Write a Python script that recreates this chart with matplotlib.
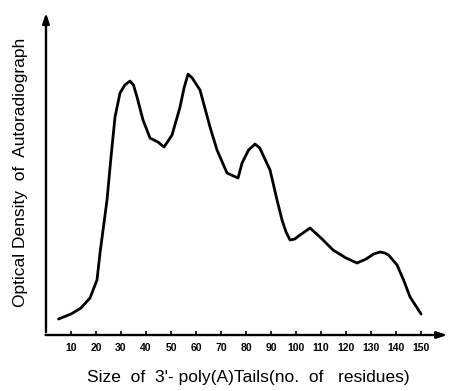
import numpy as np
import matplotlib.pyplot as plt

# Densitometer trace (x = residues, y = arbitrary density)
tail_size = [5, 10, 14, 17.6, 20.4, 21.6, 24.4, 26, 27.6, 29.6, 31.5, 33.6, 35,
             36.4, 38.8, 41.6, 44.8, 47.2, 50.4, 53.6, 55.2, 56.8, 58.5, 61.6,
             65.6, 68.4, 72.4, 76.8, 78.4, 81, 83.6, 85.5, 86.8, 89.6, 92.4,
             94.4, 96, 97.6, 99.5, 101, 105.6, 110, 114.8, 120, 124.4, 128,
             131, 133.6, 135.5, 137, 140.4, 143, 145.6, 150]
density = [16, 21, 27, 37, 55, 82, 135, 178, 218, 242, 250, 254, 250,
           238, 215, 197, 193, 188, 200, 228, 247, 261, 257, 245,
           208, 185, 162, 157, 172, 185, 191, 187, 180, 165, 135,
           115, 103, 95, 96, 99, 107, 97, 85, 77, 72, 76,
           81, 83, 82, 80, 70, 55, 38, 21]
tick_values = [10, 20, 30, 40, 50, 60, 70, 80, 90, 100, 110, 120, 130, 140, 150]

fig = plt.figure(figsize=(4.5, 3.91), dpi=100)
ax = fig.add_axes([0.1022, 0.1432, 0.898, 0.831])

ax.plot(tail_size, density, color='black', lw=2.0, solid_joinstyle='round',
        solid_capstyle='round')

ax.set_xlim(0, 161.6)
ax.set_ylim(0, 325)

for s in ax.spines.values():
    s.set_visible(False)

# axes drawn as arrows
ax.annotate('', xy=(1.0, 0), xytext=(-0.008, 0), xycoords='axes fraction',
            arrowprops=dict(arrowstyle='-|>,head_length=0.6,head_width=0.2',
                            color='black', lw=1.7))
ax.annotate('', xy=(0, 1.0), xytext=(0, 0), xycoords='axes fraction',
            arrowprops=dict(arrowstyle='-|>,head_length=0.6,head_width=0.2',
                            color='black', lw=1.7))

ax.set_xticks(tick_values)
ax.set_xticklabels([str(t) for t in tick_values], fontsize=7.5, fontweight='bold',
                   family='Liberation Sans')
ax.tick_params(axis='x', direction='in', length=3, width=1.2, pad=6)
ax.set_yticks([])

ax.set_xlabel("Size  of  3'- poly(A)Tails(no.  of   residues)", fontsize=12.5,
              family='Liberation Sans', labelpad=12)
fig.text(0.045, 0.56, 'Optical Density  of  Autoradiograph', rotation=90,
         ha='center', va='center', fontsize=12.5, family='Liberation Sans')

fig.savefig('out.png', dpi=100)
